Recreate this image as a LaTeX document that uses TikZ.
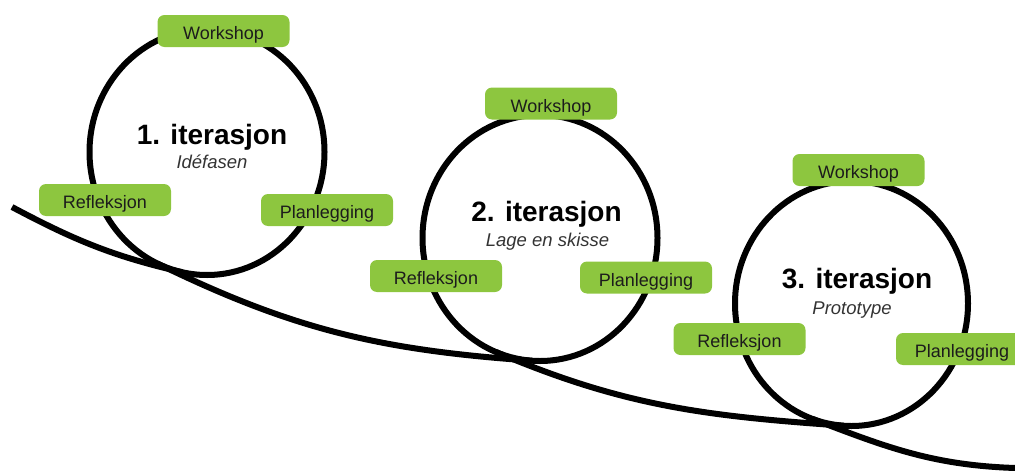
\documentclass[tikz,border=0pt]{standalone}
\usepackage{fontspec}
\setmainfont{Liberation Sans}
\definecolor{iter_green}{RGB}{141, 198, 63}
\definecolor{iter_text}{RGB}{28, 28, 28}
\usepackage{tikz}
\usetikzlibrary{calc}

\begin{document}
\begin{tikzpicture}[x=1pt, y=1pt,
    loopline/.style={line width=6pt, black},
    stepbox/.style={fill=iter_green, rounded corners=7pt, minimum width=132pt,
      minimum height=32pt, inner sep=0pt, text height=17.5pt, text depth=0pt,
      font=\fontsize{18}{20}\selectfont, text=iter_text},
    itertitle/.style={anchor=base, font=\fontsize{28}{30}\selectfont\bfseries},
    itersub/.style={anchor=base, font=\fontsize{18.5}{21}\selectfont\itshape, text=black!80}]
        \useasboundingbox (0,0) rectangle (1015,-471);
        \clip (0,0) rectangle (1015,-471);

        % --- Centres of the three loops ---
        \coordinate (c1) at (207,-152);
        \coordinate (c2) at (540,-238);
        \coordinate (c3) at (851.5,-303.5);

        % Where the line joins / leaves each loop
        \coordinate (start) at (12,-207);
        \coordinate (in1) at ($(c1)+(258:117.5 and 123)$);
        \coordinate (out1) at ($(c1)+(245:117.5 and 123)$);
        \coordinate (in2) at ($(c2)+(266:117.5 and 123)$);
        \coordinate (out2) at ($(c2)+(248:117.5 and 123)$);
        \coordinate (in3) at ($(c3)+(266:116.5 and 122.5)$);
        \coordinate (out3) at ($(c3)+(250:116.5 and 122.5)$);
        \coordinate (finish) at (1015,-468);

        % Line
        \draw[loopline] (start) to[out=-28, in=167] (in1);
        \draw[loopline] (out1) to[out=-26, in=176] (in2);
        \draw[loopline] (out2) to[out=-23, in=176] (in3);
        \draw[loopline] (out3) to[out=-21, in=178] (finish);

        % Loops
        \draw[loopline] (c1) ellipse [x radius=117.5, y radius=123];
        \draw[loopline] (c2) ellipse [x radius=117.5, y radius=123];
        \draw[loopline] (c3) ellipse [x radius=116.5, y radius=122.5];

        % --- 1. iterasjon ---
        \node[itertitle] (title1) at (212,-144) {1. iterasjon};
        \node[itersub] (sub1) at (212,-168) {Idéfasen};
        \node[stepbox] (work1) at (223.5,-31) {Workshop};
        \node[stepbox] (refl1) at (105,-200) {Refleksjon};
        \node[stepbox] (plan1) at (327,-210) {Planlegging};

        % --- 2. iterasjon ---
        \node[itertitle] (title2) at (546.5,-221.5) {2. iterasjon};
        \node[itersub] (sub2) at (547.5,-246.5) {Lage en skisse};
        \node[stepbox] (work2) at (551,-103.5) {Workshop};
        \node[stepbox] (refl2) at (436,-276) {Refleksjon};
        \node[stepbox] (plan2) at (646,-277.5) {Planlegging};

        % --- 3. iterasjon ---
        \node[itertitle] (title3) at (857,-288) {3. iterasjon};
        \node[itersub] (sub3) at (852,-314) {Prototype};
        \node[stepbox] (work3) at (858.5,-170) {Workshop};
        \node[stepbox] (refl3) at (739.5,-339) {Refleksjon};
        \node[stepbox] (plan3) at (962,-349) {Planlegging};
      \end{tikzpicture}
\end{document}
